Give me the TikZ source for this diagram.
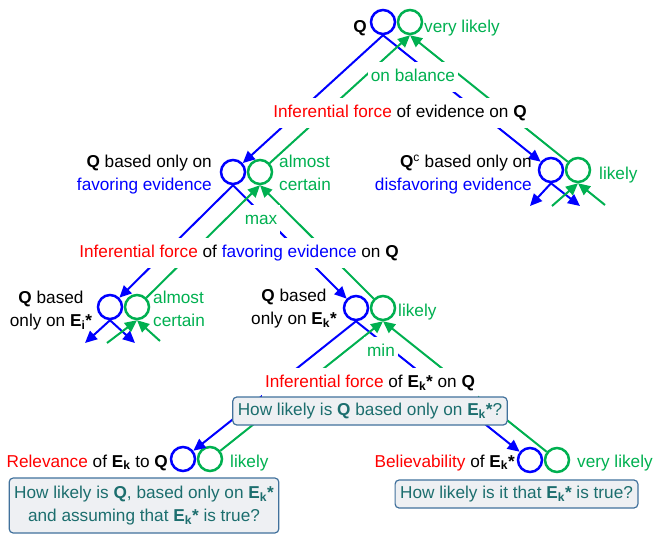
\documentclass[tikz,border=0pt]{standalone}
\usepackage{fontspec}
\setmainfont{Liberation Sans}
\usetikzlibrary{arrows.meta}
\definecolor{qblue}{RGB}{0,0,255}
\definecolor{qgreen}{RGB}{0,176,80}
\definecolor{qred}{RGB}{255,0,0}
\definecolor{qteal}{RGB}{28,110,110}
\definecolor{qborder}{RGB}{65,113,156}
\definecolor{qfill}{RGB}{238,240,243}
\begin{document}
\begin{tikzpicture}[x=1pt,y=-1pt,
  every node/.style={inner sep=0pt,font=\fontsize{17.2}{23}\selectfont},
  bc/.style={circle,draw=qblue,line width=2.5pt,minimum size=24pt,inner sep=0pt},
  gc/.style={circle,draw=qgreen,line width=2.5pt,minimum size=24pt,inner sep=0pt},
  bl/.style={draw=qblue,line width=2pt,-{Triangle[length=12pt,width=11pt]}},
  gl/.style={draw=qgreen,line width=2pt,-{Triangle[length=12pt,width=11pt]}},
  lab/.style={anchor=base,fill=white,text height=14pt,text depth=4pt,inner xsep=3pt,inner ysep=6pt},
  qbox/.style={draw=qborder,fill=qfill,rounded corners=4pt,line width=1.2pt,text=qteal,inner xsep=5pt,inner ysep=0pt}
]
\useasboundingbox (0,0) rectangle (653,534);
% circles
\node[bc] (tb) at (383,22) {};
\node[gc] (tg) at (410,22) {};
\node[bc] (fb) at (233,172) {};
\node[gc] (fg) at (260,172) {};
\node[bc] (cb) at (551,170) {};
\node[gc] (cg) at (578,170) {};
\node[bc] (ib) at (110,307) {};
\node[gc] (ig) at (137,307) {};
\node[bc] (kb) at (356,308) {};
\node[gc] (kg) at (383,308) {};
\node[bc] (rb) at (183,459) {};
\node[gc] (rg) at (210,459) {};
\node[bc] (vb) at (530,460) {};
\node[gc] (vg) at (557,460) {};
% stub ends
\coordinate (cbl) at (530,206);
\coordinate (cbr) at (580,206);
\coordinate (cgl) at (552,206);
\coordinate (cgr) at (605,205);
\coordinate (ibl) at (85,343);
\coordinate (ibr) at (135,343);
\coordinate (igl) at (107,343);
\coordinate (igr) at (160,341);
% connectors
\draw[bl] (tb.south) -- (fb);
\draw[bl] (tb.south) -- (cb);
\draw[gl] (fg) -- (tg.south);
\draw[gl] (cg) -- (tg.south);
\draw[bl] (fb.south) -- (ib);
\draw[bl] (fb.south) -- (kb);
\draw[gl] (ig) -- (fg.south);
\draw[gl] (kg) -- (fg.south);
\draw[bl] (kb.south) -- (rb);
\draw[bl] (kb.south) -- (vb);
\draw[gl] (rg) -- (kg.south);
\draw[gl] (vg) -- (kg.south);
\draw[bl] (cb.south) -- (cbl);
\draw[bl] (cb.south) -- (cbr);
\draw[gl] (cgl) -- (cg.south);
\draw[gl] (cgr) -- (cg.south);
\draw[bl] (ib.south) -- (ibl);
\draw[bl] (ib.south) -- (ibr);
\draw[gl] (igl) -- (ig.south);
\draw[gl] (igr) -- (ig.south);
% labels over connectors
\node[lab,text=qgreen] (onbal) at (413,82) {on balance};
\node[lab] (ife) at (400,118) {{\color{qred}Inferential force} of evidence on \textbf{Q}};
\node[lab,text=qgreen] (max) at (261,225) {max};
\node[lab] (iff) at (239,258) {{\color{qred}Inferential force} of {\color{qblue}favoring evidence} on \textbf{Q}};
\node[lab,text=qgreen] (min) at (381,357) {min};
\node[lab] (ifk) at (370,388) {{\color{qred}Inferential force} of \textbf{E\textsubscript{k}*} on \textbf{Q}};
% node labels (multi-line: base = last line)
\node[anchor=base east] (tq) at (367,33) {\textbf{Q}};
\node[anchor=base west,text=qgreen] (tv) at (424,33) {very likely};
\node[anchor=base east,align=right] (fl) at (212,191) {\textbf{Q} based only on\\{\color{qblue}favoring evidence}};
\node[anchor=base west,align=left,text=qgreen] (fv) at (279,191) {almost\\certain};
\node[anchor=base east,align=right] (cl) at (532,191) {\textbf{Q}\textsuperscript{c} based only on\\{\color{qblue}disfavoring evidence}};
\node[anchor=base west,text=qgreen] (cv) at (599,180) {likely};
\node[anchor=base,align=center] (il) at (51,327) {\textbf{Q} based\\only on \textbf{E\textsubscript{i}*}};
\node[anchor=base west,align=left,text=qgreen] (iv) at (153,327) {almost\\certain};
\node[anchor=base,align=center] (kl) at (294,325) {\textbf{Q} based\\only on \textbf{E\textsubscript{k}*}};
\node[anchor=base west,text=qgreen] (kv) at (398,317) {likely};
\node[anchor=base east] (rl) at (168,467) {{\color{qred}Relevance} of \textbf{E\textsubscript{k}} to \textbf{Q}};
\node[anchor=base west,text=qgreen] (rv) at (230,467) {likely};
\node[anchor=base east] (vl) at (515,467) {{\color{qred}Believability} of \textbf{E\textsubscript{k}*}};
\node[anchor=base west,text=qgreen] (vv) at (577,467) {very likely};
% question boxes
\node[qbox,minimum height=28pt] (box1) at (370,411) {How likely is \textbf{Q} based only on \textbf{E\textsubscript{k}*}?};
\node[qbox,align=center,minimum height=55pt] (box2) at (144,505.5) {How likely is \textbf{Q}, based only on \textbf{E\textsubscript{k}*}\\and assuming that \textbf{E\textsubscript{k}*} is true?};
\node[qbox,minimum height=28pt] (box3) at (516.5,494) {How likely is it that \textbf{E\textsubscript{k}*} is true?};
\end{tikzpicture}
\end{document}
